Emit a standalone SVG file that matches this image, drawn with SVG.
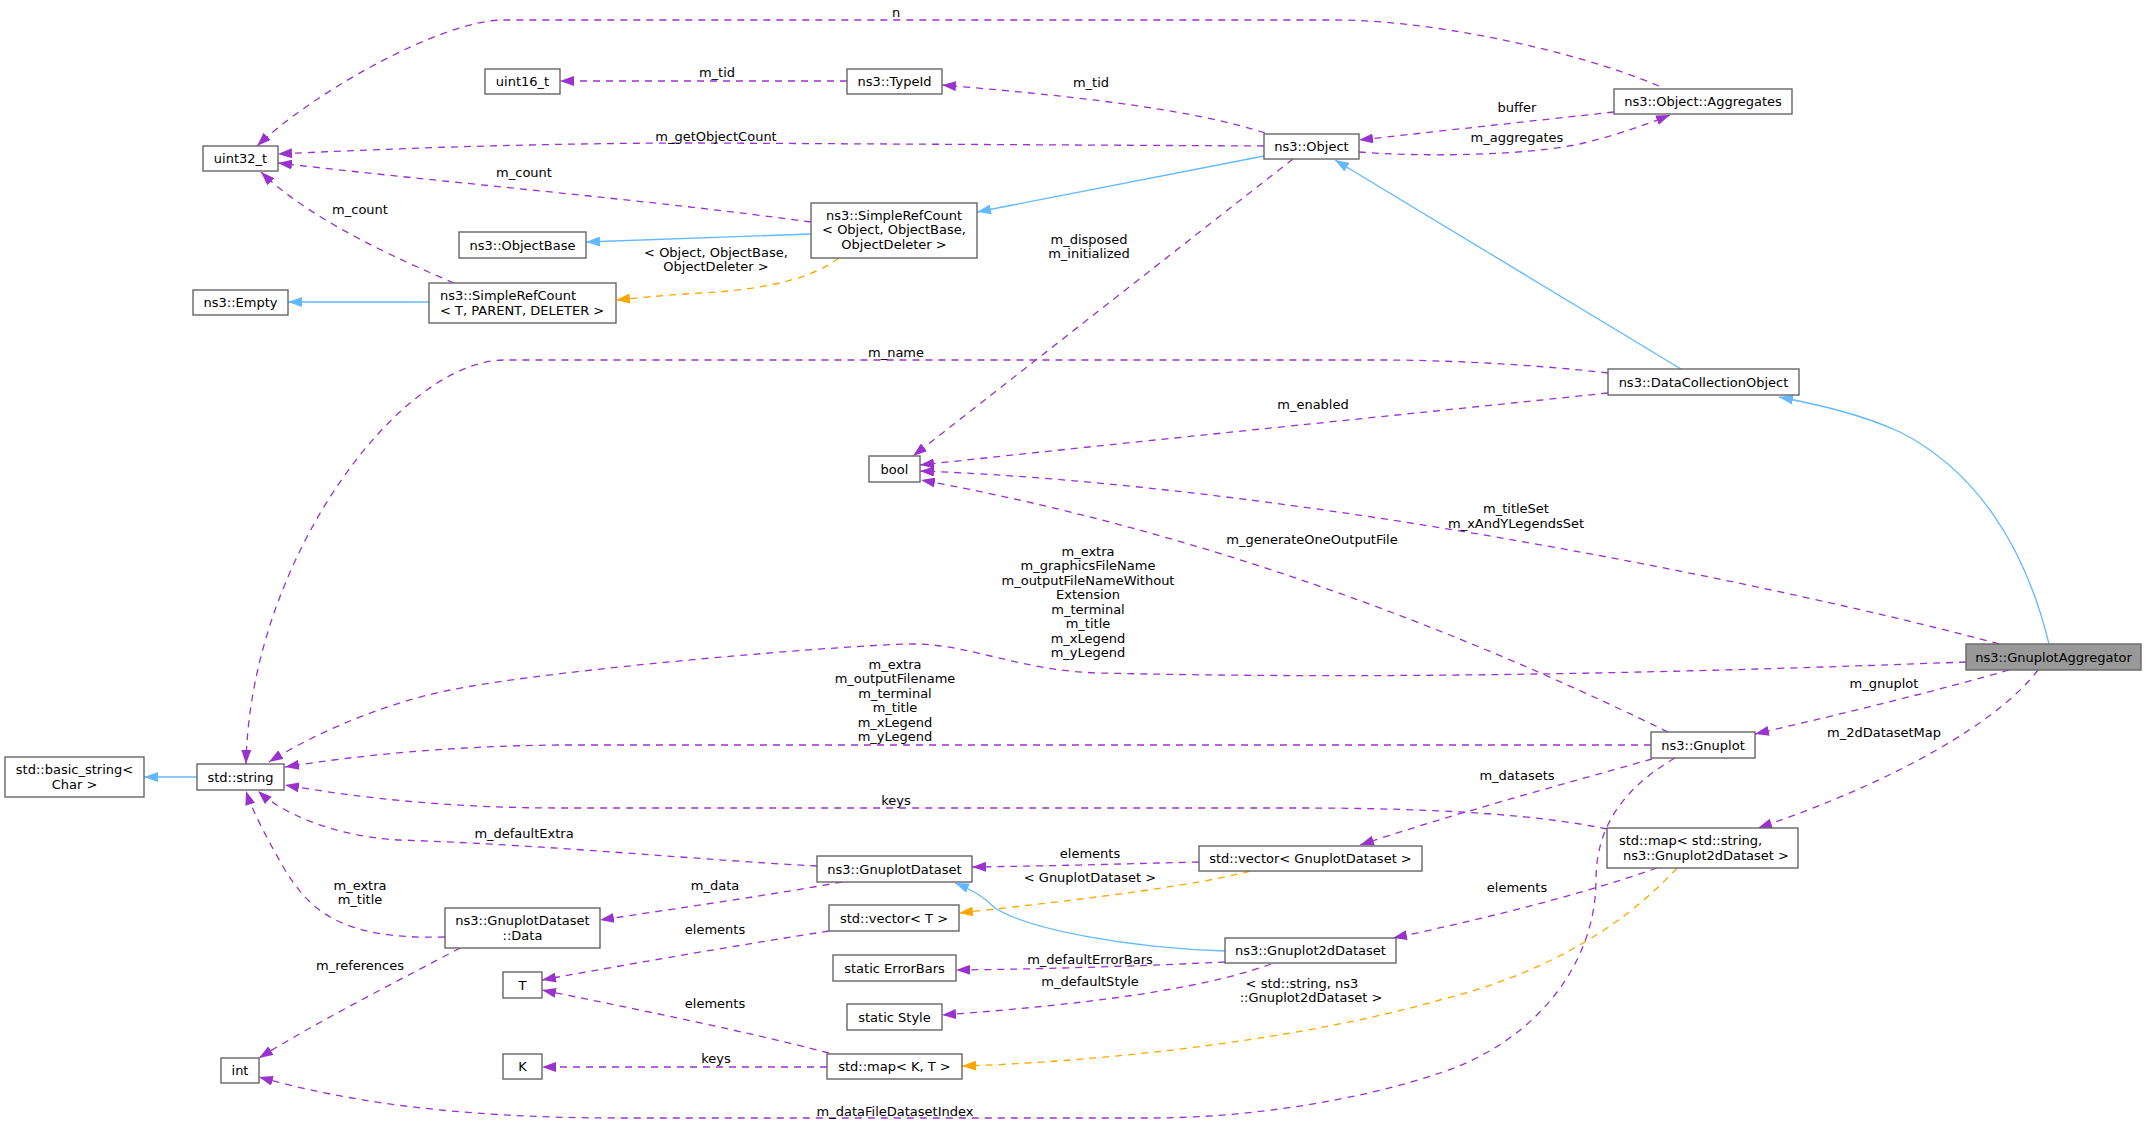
<svg xmlns="http://www.w3.org/2000/svg" width="2148" height="1125" viewBox="0 0 2148 1125">
<style>
text{font-family:"DejaVu Sans","Liberation Sans",sans-serif;font-size:13px;fill:#000}
.nd rect{fill:#fff;stroke:#666;stroke-width:1.4}
.hl rect{fill:#999}
.nd text,.lb text{text-anchor:middle}
.nd text.s{text-anchor:start}
.e{fill:none;stroke-width:1.3}
.p{stroke:#9a32cd;stroke-dasharray:7,6;marker-end:url(#ap)}
.o{stroke:#ffa500;stroke-dasharray:7,6;marker-end:url(#ao)}
.b{stroke:#63b8ff;marker-end:url(#ab)}
</style>
<defs>
<marker id="ap" markerUnits="userSpaceOnUse" viewBox="0 0 14 10" markerWidth="14" markerHeight="10" refX="14" refY="5" orient="auto"><path d="M0,0 L14,5 L0,10 z" fill="#9a32cd"/></marker>
<marker id="ao" markerUnits="userSpaceOnUse" viewBox="0 0 14 10" markerWidth="14" markerHeight="10" refX="14" refY="5" orient="auto"><path d="M0,0 L14,5 L0,10 z" fill="#ffa500"/></marker>
<marker id="ab" markerUnits="userSpaceOnUse" viewBox="0 0 14 10" markerWidth="14" markerHeight="10" refX="14" refY="5" orient="auto"><path d="M0,0 L14,5 L0,10 z" fill="#63b8ff"/></marker>
</defs>
<rect x="0" y="0" width="2148" height="1125" fill="#fff"/>
<g id="connectors">
<path class="e b" d="M1264,156 L977,212"/>
<path class="e b" d="M811,234 L586,242"/>
<path class="e b" d="M429,302 L288,302"/>
<path class="e b" d="M1681,369 L1335,160"/>
<path class="e b" d="M2049,644 C2025,545 1975,470 1900,432 C1860,414 1820,405 1779,397"/>
<path class="e b" d="M197,777 L144,777"/>
<path class="e b" d="M1225,951 C1130,948 1030,930 995,908 C985,898 975,891 955,883"/>
<path class="e o" d="M839,258 C810,280 760,290 700,293 C670,295 645,297 616,300"/>
<path class="e o" d="M1250,871 C1200,885 1080,900 959,913"/>
<path class="e o" d="M1677,868 C1620,930 1540,975 1440,1000 C1300,1040 1100,1062 962,1066"/>
<path class="e p" d="M1659,86 C1560,45 1420,20 1336,20 L504,20 C440,20 310,95 257,146"/>
<path class="e p" d="M847,81 L560,81"/>
<path class="e p" d="M1265,133 C1200,112 1100,98 942,85"/>
<path class="e p" d="M1264,146 L700,143 C550,143 400,148 278,154"/>
<path class="e p" d="M811,222 C650,200 450,183 278,163"/>
<path class="e p" d="M454,283 C400,260 310,220 261,172"/>
<path class="e p" d="M1614,112 C1540,120 1450,130 1359,140"/>
<path class="e p" d="M1359,152 C1420,157 1530,156 1584,143 C1620,134 1645,125 1670,115"/>
<path class="e p" d="M1293,159 L913,456"/>
<path class="e p" d="M1608,373 C1540,365 1450,360 1380,360 L505,360 C400,360 250,560 246,764"/>
<path class="e p" d="M1608,393 C1400,415 1150,440 920,465"/>
<path class="e p" d="M1999,644 C1800,590 1300,485 920,471"/>
<path class="e p" d="M1668,732 C1520,660 1250,540 921,480"/>
<path class="e p" d="M1966,662 C1700,672 1400,680 1100,673 C1020,671 970,644 913,644 C860,644 560,668 450,690 C390,702 320,730 269,762"/>
<path class="e p" d="M1651,745 L560,745 C450,746 360,755 285,767"/>
<path class="e p" d="M2009,670 C1940,690 1850,712 1755,734"/>
<path class="e p" d="M2038,670 C2000,720 1900,780 1758,828"/>
<path class="e p" d="M1652,759 C1560,785 1450,815 1360,845"/>
<path class="e p" d="M1607,829 C1540,815 1440,808 1300,808 L560,808 C450,808 360,798 285,785"/>
<path class="e p" d="M817,866 C700,860 550,845 400,840 C350,838 290,820 258,791"/>
<path class="e p" d="M445,937 C340,940 310,910 285,870 C265,835 252,810 246,791"/>
<path class="e p" d="M842,882 C770,895 680,908 600,920"/>
<path class="e p" d="M1199,862 C1120,864 1050,866 972,867"/>
<path class="e p" d="M829,931 C740,945 640,962 542,980"/>
<path class="e p" d="M829,1053 C740,1030 640,1010 542,990"/>
<path class="e p" d="M827,1067 L542,1067"/>
<path class="e p" d="M460,948 C400,980 320,1020 259,1058"/>
<path class="e p" d="M1675,758 C1620,790 1596,830 1596,880 C1596,960 1540,1040 1440,1073 C1360,1100 1250,1118 1150,1118 L620,1118 C450,1118 340,1100 259,1077"/>
<path class="e p" d="M1657,868 C1580,895 1480,920 1393,938"/>
<path class="e p" d="M1225,962 C1140,966 1050,969 956,970"/>
<path class="e p" d="M1271,964 C1200,990 1080,1005 942,1015"/>
</g>
<g id="edge-labels" class="lb">
<text x="896" y="16.5">n</text>
<text x="717" y="76.5">m_tid</text>
<text x="1091" y="86.5">m_tid</text>
<text x="716" y="140.5">m_getObjectCount</text>
<text x="524" y="176.5">m_count</text>
<text x="360" y="213.5">m_count</text>
<text x="1517" y="111.5">buffer</text>
<text x="1517" y="141.5">m_aggregates</text>
<text x="1089" y="243.5">m_disposed</text>
<text x="1089" y="258">m_initialized</text>
<text x="716" y="256.5">&lt; Object, ObjectBase,</text>
<text x="716" y="271">ObjectDeleter &gt;</text>
<text x="896" y="356.5">m_name</text>
<text x="1313" y="408.5">m_enabled</text>
<text x="1516" y="513">m_titleSet</text>
<text x="1516" y="527.5">m_xAndYLegendsSet</text>
<text x="1312" y="543.5">m_generateOneOutputFile</text>
<text x="1088" y="555.5">m_extra</text>
<text x="1088" y="570">m_graphicsFileName</text>
<text x="1088" y="584.5">m_outputFileNameWithout</text>
<text x="1088" y="599">Extension</text>
<text x="1088" y="613.5">m_terminal</text>
<text x="1088" y="628">m_title</text>
<text x="1088" y="642.5">m_xLegend</text>
<text x="1088" y="657">m_yLegend</text>
<text x="895" y="668.5">m_extra</text>
<text x="895" y="683">m_outputFilename</text>
<text x="895" y="697.5">m_terminal</text>
<text x="895" y="712">m_title</text>
<text x="895" y="726.5">m_xLegend</text>
<text x="895" y="741">m_yLegend</text>
<text x="1884" y="687.5">m_gnuplot</text>
<text x="1884" y="736.5">m_2dDatasetMap</text>
<text x="1517" y="779.5">m_datasets</text>
<text x="896" y="804.5">keys</text>
<text x="524" y="837.5">m_defaultExtra</text>
<text x="1090" y="857.5">elements</text>
<text x="1090" y="881.5">&lt; GnuplotDataset &gt;</text>
<text x="360" y="889.5">m_extra</text>
<text x="360" y="904">m_title</text>
<text x="715" y="889.5">m_data</text>
<text x="715" y="933.5">elements</text>
<text x="1517" y="891.5">elements</text>
<text x="1090" y="963.5">m_defaultErrorBars</text>
<text x="360" y="969.5">m_references</text>
<text x="1090" y="985.5">m_defaultStyle</text>
<text x="1302" y="987.5">&lt; std::string, ns3</text>
<text x="1311" y="1001.5">::Gnuplot2dDataset &gt;</text>
<text x="715" y="1007.5">elements</text>
<text x="716" y="1062.5">keys</text>
<text x="895" y="1115.5">m_dataFileDatasetIndex</text>
</g>
<g id="node-uint16" class="nd"><rect x="485" y="69" width="75" height="25"/><text x="522.5" y="86">uint16_t</text></g>
<g id="node-typeid" class="nd"><rect x="847" y="69" width="95" height="25"/><text x="894.5" y="86">ns3::TypeId</text></g>
<g id="node-uint32" class="nd"><rect x="203" y="146" width="75" height="25"/><text x="240.5" y="163">uint32_t</text></g>
<g id="node-object" class="nd"><rect x="1264" y="134" width="95" height="25"/><text x="1311.5" y="151">ns3::Object</text></g>
<g id="node-aggregates" class="nd"><rect x="1614" y="89" width="178" height="25"/><text x="1703" y="106">ns3::Object::Aggregates</text></g>
<g id="node-objectbase" class="nd"><rect x="459" y="232" width="127" height="26"/><text x="522.5" y="249.5">ns3::ObjectBase</text></g>
<g id="node-src-object" class="nd"><rect x="811" y="203" width="166" height="55"/><text x="894" y="219.5">ns3::SimpleRefCount</text><text x="894" y="234">&lt; Object, ObjectBase,</text><text x="894" y="248.5">ObjectDeleter &gt;</text></g>
<g id="node-empty" class="nd"><rect x="193" y="290" width="95" height="25"/><text x="240.5" y="307">ns3::Empty</text></g>
<g id="node-src-t" class="nd"><rect x="429" y="283" width="187" height="40"/><text class="s" x="440" y="300">ns3::SimpleRefCount</text><text class="s" x="440" y="314.5">&lt; T, PARENT, DELETER &gt;</text></g>
<g id="node-dco" class="nd"><rect x="1608" y="369" width="191" height="26"/><text x="1703.5" y="386.5">ns3::DataCollectionObject</text></g>
<g id="node-bool" class="nd"><rect x="869" y="456" width="51" height="26"/><text x="894.5" y="473.5">bool</text></g>
<g id="node-gnuplotaggregator" class="nd hl"><rect x="1966" y="644" width="175" height="26"/><text x="2053.5" y="661.5">ns3::GnuplotAggregator</text></g>
<g id="node-gnuplot" class="nd"><rect x="1651" y="732" width="104" height="26"/><text x="1703" y="749.5">ns3::Gnuplot</text></g>
<g id="node-basic-string" class="nd"><rect x="5" y="757" width="139" height="40"/><text x="74.5" y="774">std::basic_string&lt;</text><text x="74.5" y="788.5">Char &gt;</text></g>
<g id="node-string" class="nd"><rect x="197" y="764" width="87" height="26"/><text x="240.5" y="781.5">std::string</text></g>
<g id="node-gnuplotdataset" class="nd"><rect x="817" y="856" width="155" height="26"/><text x="894.5" y="873.5">ns3::GnuplotDataset</text></g>
<g id="node-vector-gd" class="nd"><rect x="1199" y="846" width="223" height="25"/><text x="1310.5" y="863">std::vector&lt; GnuplotDataset &gt;</text></g>
<g id="node-data" class="nd"><rect x="445" y="908" width="155" height="40"/><text x="522.5" y="925">ns3::GnuplotDataset</text><text x="522.5" y="939.5">::Data</text></g>
<g id="node-vector-t" class="nd"><rect x="829" y="905" width="130" height="26"/><text x="894" y="922.5">std::vector&lt; T &gt;</text></g>
<g id="node-t" class="nd"><rect x="503" y="972" width="39" height="26"/><text x="522.5" y="989.5">T</text></g>
<g id="node-errorbars" class="nd"><rect x="833" y="955" width="123" height="26"/><text x="894.5" y="972.5">static ErrorBars</text></g>
<g id="node-gnuplot2d" class="nd"><rect x="1225" y="938" width="171" height="25"/><text x="1310.5" y="955">ns3::Gnuplot2dDataset</text></g>
<g id="node-style" class="nd"><rect x="847" y="1004" width="95" height="26"/><text x="894.5" y="1021.5">static Style</text></g>
<g id="node-map-g2d" class="nd"><rect x="1607" y="828" width="191" height="40"/><text class="s" x="1619" y="845">std::map&lt; std::string,</text><text class="s" x="1623" y="859.5">ns3::Gnuplot2dDataset &gt;</text></g>
<g id="node-int" class="nd"><rect x="221" y="1058" width="38" height="25"/><text x="240" y="1075">int</text></g>
<g id="node-k" class="nd"><rect x="503" y="1054" width="39" height="25"/><text x="522.5" y="1071">K</text></g>
<g id="node-map-kt" class="nd"><rect x="827" y="1054" width="135" height="25"/><text x="894.5" y="1071">std::map&lt; K, T &gt;</text></g>
</svg>
